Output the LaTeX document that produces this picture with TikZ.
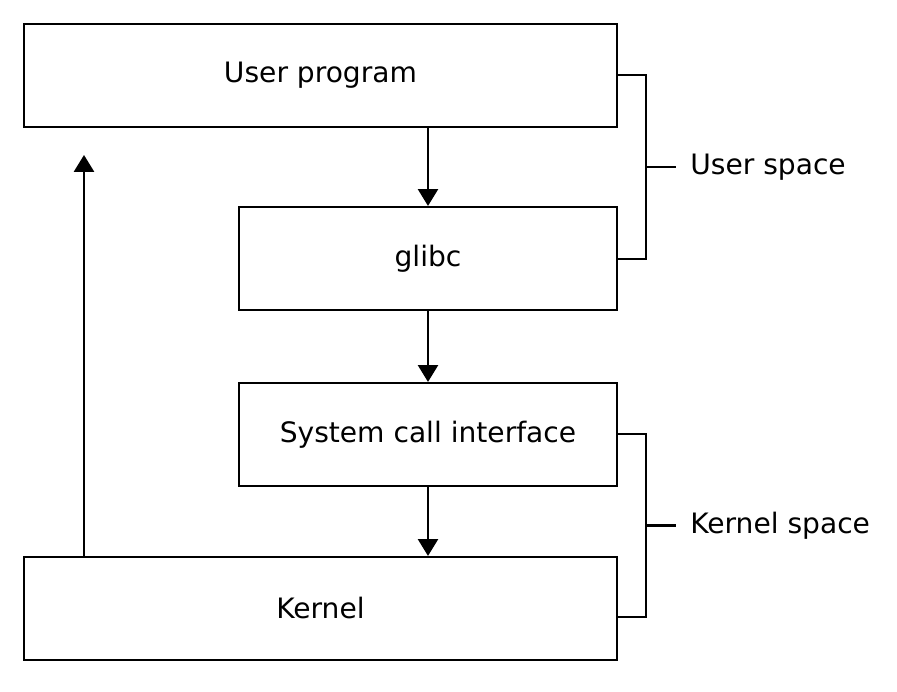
\documentclass[tikz,border=0pt]{standalone}
\usepackage{fontspec}
\setmainfont{DejaVu Sans}
\usepackage{tikz,xcolor}
\usetikzlibrary{arrows.meta, calc}

\tikzset{
	layerbox/.style={draw, line width=1.5pt, minimum height=2.575cm, inner sep=0pt},
	callarrow/.style={line width=1.5pt, -{Triangle[width=0.5cm, length=0.42cm]}},
	bracketline/.style={line width=1.5pt},
	spacelabel/.style={anchor=west, inner sep=0pt}
}

\begin{document}
\begin{tikzpicture}[font=\fontsize{20}{24}\selectfont]
	\useasboundingbox (0,0) rectangle (22.425,17.3);

	\node[layerbox, minimum width=14.825cm] (userprog) at (8.0125,15.4125) {User program};
	\node[layerbox, minimum width=9.45cm] (glibc) at (10.7,10.8375) {glibc};
	\node[layerbox, minimum width=9.45cm] (syscall) at (10.7,6.4375) {System call interface};
	\node[layerbox, minimum width=14.825cm] (kernel) at (8.0125,2.0875) {Kernel};

	\draw[callarrow] (userprog.south -| glibc) -- (glibc.north);
	\draw[callarrow] (glibc.south) -- (syscall.north);
	\draw[callarrow] (syscall.south) -- (kernel.north -| syscall);

	% return path
	\coordinate (retend) at (2.1,13.425);
	\draw[callarrow] (kernel.north -| retend) -- (retend);

	% space brackets
	\coordinate (ubtop) at (16.14,15.425);
	\coordinate (ubbot) at (16.14,10.825);
	\coordinate (ubmid) at (16.14,13.125);
	\node[spacelabel] (userspace) at (17.25,13.125) {User space};
	\draw[bracketline] (userprog.east |- ubtop) -- (ubtop) -- (ubbot) -- (glibc.east |- ubbot);
	\draw[bracketline] (ubmid) -- ++(0.76,0);

	\coordinate (kbtop) at (16.14,6.45);
	\coordinate (kbbot) at (16.14,1.875);
	\coordinate (kbmid) at (16.14,4.1625);
	\node[spacelabel] (kernelspace) at (17.25,4.1625) {Kernel space};
	\draw[bracketline] (syscall.east |- kbtop) -- (kbtop) -- (kbbot) -- (kernel.east |- kbbot);
	\draw[bracketline] (kbmid) -- ++(0.76,0);

\end{tikzpicture}
\end{document}
